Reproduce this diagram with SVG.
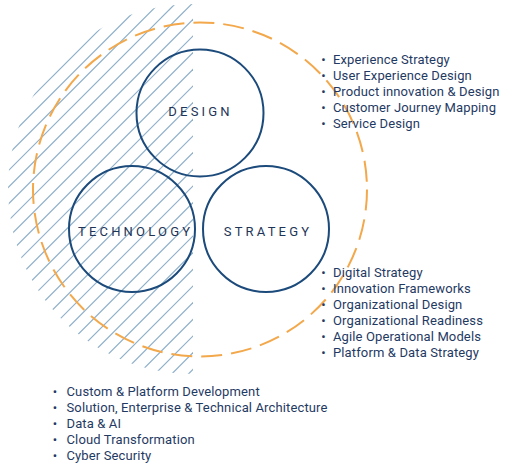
<svg xmlns="http://www.w3.org/2000/svg" width="505" height="464" viewBox="0 0 505 464">
<style>
.hatch line{stroke:#8eafc8;stroke-width:1.2}
.ring{fill:none;stroke:#1b4a7b;stroke-width:2}
.orbit{fill:none;stroke:#f2a84b;stroke-width:2;stroke-dasharray:21 9}
.label{font-family:Roboto,"Liberation Sans",sans-serif;font-size:13px;letter-spacing:3.2px;fill:#1e3558;text-anchor:middle}
.list{font-family:Roboto,"Liberation Sans",sans-serif;font-size:13px;letter-spacing:0.13px;fill:#1f3a63}
.dot{text-anchor:middle}
</style>
<defs>
<clipPath id="half">
<path d="M193,4 A185,185 0 0 0 193,374 Z"/>
</clipPath>
</defs>
<rect width="505" height="464" fill="#ffffff"/>
<g id="hatch" class="hatch" clip-path="url(#half)">
<line x1="0" y1="129" x2="129" y2="0"/>
<line x1="0" y1="145.7" x2="145.7" y2="0"/>
<line x1="0" y1="162.4" x2="162.4" y2="0"/>
<line x1="0" y1="179" x2="179" y2="0"/>
<line x1="0" y1="195.7" x2="195.7" y2="0"/>
<line x1="0" y1="212.4" x2="212.4" y2="0"/>
<line x1="0" y1="229" x2="229" y2="0"/>
<line x1="0" y1="245.7" x2="245.7" y2="0"/>
<line x1="0" y1="262.4" x2="262.4" y2="0"/>
<line x1="0" y1="279" x2="279" y2="0"/>
<line x1="0" y1="295.7" x2="295.7" y2="0"/>
<line x1="0" y1="312.4" x2="312.4" y2="0"/>
<line x1="0" y1="329" x2="329" y2="0"/>
<line x1="0" y1="345.7" x2="345.7" y2="0"/>
<line x1="0" y1="362.4" x2="362.4" y2="0"/>
<line x1="0" y1="379" x2="379" y2="0"/>
<line x1="0" y1="395.7" x2="395.7" y2="0"/>
<line x1="0" y1="412.4" x2="412.4" y2="0"/>
<line x1="0" y1="429" x2="429" y2="0"/>
<line x1="0" y1="445.7" x2="445.7" y2="0"/>
<line x1="0" y1="462.4" x2="462.4" y2="0"/>
<line x1="0" y1="479" x2="479" y2="0"/>
<line x1="0" y1="495.7" x2="495.7" y2="0"/>
<line x1="0" y1="512.4" x2="512.4" y2="0"/>
<line x1="0" y1="529" x2="529" y2="0"/>
<line x1="0" y1="545.7" x2="545.7" y2="0"/>
<line x1="0" y1="562.4" x2="562.4" y2="0"/>
</g>
<g id="orbit">
<circle class="orbit" cx="200" cy="189.5" r="167"/>
</g>
<g id="design">
<circle class="ring" cx="200" cy="113" r="63.5"/>
<text class="label" x="200.6" y="116">DESIGN</text>
</g>
<g id="technology">
<circle class="ring" cx="132" cy="229" r="63"/>
<text class="label" x="135.6" y="236">TECHNOLOGY</text>
</g>
<g id="strategy">
<circle class="ring" cx="266" cy="229" r="63"/>
<text class="label" x="268" y="236">STRATEGY</text>
</g>
<g id="design-list" class="list">
<text class="dot" x="323.5" y="64">•</text><text x="333" y="64">Experience Strategy</text>
<text class="dot" x="323.5" y="80">•</text><text x="333" y="80">User Experience Design</text>
<text class="dot" x="323.5" y="96">•</text><text x="333" y="96">Product innovation &amp; Design</text>
<text class="dot" x="323.5" y="112">•</text><text x="333" y="112">Customer Journey Mapping</text>
<text class="dot" x="323.5" y="128">•</text><text x="333" y="128">Service Design</text>
</g>
<g id="strategy-list" class="list">
<text class="dot" x="323.5" y="277">•</text><text x="333" y="277">Digital Strategy</text>
<text class="dot" x="323.5" y="293">•</text><text x="333" y="293">Innovation Frameworks</text>
<text class="dot" x="323.5" y="309">•</text><text x="333" y="309">Organizational Design</text>
<text class="dot" x="323.5" y="325">•</text><text x="333" y="325">Organizational Readiness</text>
<text class="dot" x="323.5" y="341">•</text><text x="333" y="341">Agile Operational Models</text>
<text class="dot" x="323.5" y="357">•</text><text x="333" y="357">Platform &amp; Data Strategy</text>
</g>
<g id="technology-list" class="list">
<text class="dot" x="55" y="396">•</text><text x="66.5" y="396">Custom &amp; Platform Development</text>
<text class="dot" x="55" y="412">•</text><text x="66.5" y="412">Solution, Enterprise &amp; Technical Architecture</text>
<text class="dot" x="55" y="428">•</text><text x="66.5" y="428">Data &amp; AI</text>
<text class="dot" x="55" y="444">•</text><text x="66.5" y="444">Cloud Transformation</text>
<text class="dot" x="55" y="460">•</text><text x="66.5" y="460">Cyber Security</text>
</g>
</svg>
